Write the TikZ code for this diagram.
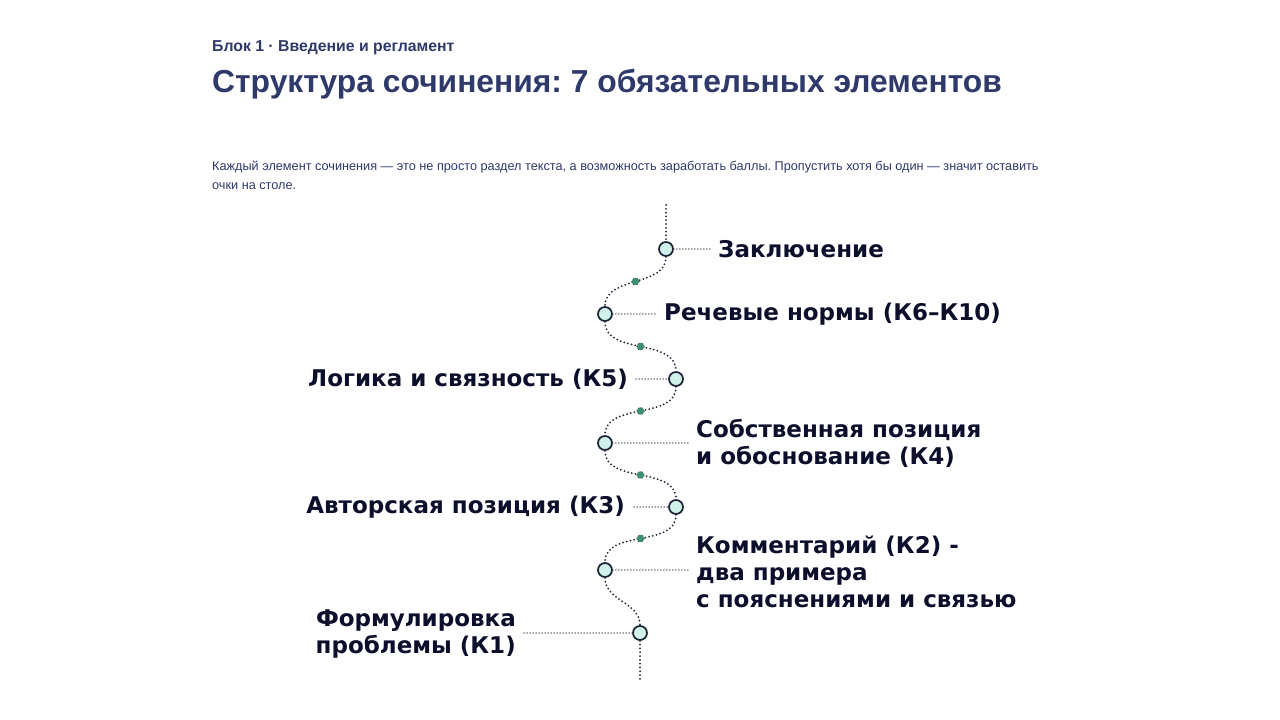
\documentclass[tikz,border=0pt]{standalone}
\usepackage{fontspec}
\setmainfont{Liberation Sans}
\newfontfamily\lblfont{DejaVu Sans}
\usetikzlibrary{positioning}
\definecolor{navy}{HTML}{2F3A6B}
\definecolor{ink}{HTML}{0C0F2C}
\definecolor{mint}{HTML}{CFF1E9}
\definecolor{moss}{HTML}{3F8E74}
\definecolor{rim}{HTML}{1C2436}
\frenchspacing

\begin{document}
\begin{tikzpicture}[x=1pt,y=1pt,
		stop/.style={circle,draw=rim,fill=mint,line width=1.7pt,minimum size=14pt,inner sep=0pt},
		bead/.style={circle,draw=rim,fill=moss,line width=0.9pt,minimum size=7.5pt,inner sep=0pt},
		wave/.style={rim,line width=2pt,dash pattern=on 0pt off 3.8pt,line cap=round},
		lead/.style={rim!90,line width=1.5pt,dash pattern=on 0pt off 3pt,line cap=round},
		lbl/.style={font=\lblfont\bfseries\fontsize{23}{27}\selectfont,text=ink,inner sep=0pt}]
		%%Page
		\fill[white] (0,0) rectangle (1280,720);
		\useasboundingbox (0,0) rectangle (1280,720);
		%%Heading
		\node[anchor=base west,inner sep=0pt,text=navy,font=\bfseries\fontsize{15.8}{19}\selectfont] (block) at (212,668) {Блок 1 · Введение и регламент};
		\node[anchor=base west,inner sep=0pt,text=navy,font=\bfseries\fontsize{31.8}{36}\selectfont] (title) at (212,627) {Структура сочинения: 7 обязательных элементов};
		\node[anchor=base west,inner sep=0pt,text=navy,align=left,font=\fontsize{12.7}{19}\selectfont] (intro) at (212,530) {Каждый элемент сочинения — это не просто раздел текста, а возможность заработать баллы. Пропустить хотя бы один — значит оставить\\очки на столе.};
		
		%%Stops
		\node[stop] (c7) at (666,471) {};
		\node[stop] (c6) at (605,406) {};
		\node[stop] (c5) at (676,341) {};
		\node[stop] (c4) at (605,277) {};
		\node[stop] (c3) at (676,213) {};
		\node[stop] (c2) at (605,150) {};
		\node[stop] (c1) at (640,87) {};
		\coordinate (top) at (666,515);
		\coordinate (bottom) at (640,38);
		
		%%Wave
		\draw[wave] (top) -- (c7);
		\draw[wave] (c7) to[out=-90,in=90] node[bead] (b6) {} (c6);
		\draw[wave] (c6) to[out=-90,in=90] node[bead] (b5) {} (c5);
		\draw[wave] (c5) to[out=-90,in=90] node[bead] (b4) {} (c4);
		\draw[wave] (c4) to[out=-90,in=90] node[bead] (b3) {} (c3);
		\draw[wave] (c3) to[out=-90,in=90] node[bead] (b2) {} (c2);
		\draw[wave] (c2) to[out=-90,in=90] (c1);
		\draw[wave] (c1) -- (bottom);
		
		%%Labels
		\node[lbl,anchor=west] (t7) at (718,471) {Заключение};
		\node[lbl,anchor=west] (t6) at (664,406) {Речевые нормы (К6–К10)};
		\node[lbl,anchor=east] (t5) at (628,341) {Логика и связность (К5)};
		\node[lbl,anchor=west,align=left] (t4) at (696,277) {Собственная позиция\\и обоснование (К4)};
		\node[lbl,anchor=east] (t3) at (625,213) {Авторская позиция (К3)};
		\node[lbl,anchor=west,align=left] (t2) at (696,148) {Комментарий (К2) -\\два примера\\с пояснениями и связью};
		\node[lbl,anchor=east,align=right] (t1) at (516,86) {Формулировка\\проблемы (К1)};
		
		%%Leaders
		\coordinate (e7) at (710,471);
		\coordinate (e6) at (655,406);
		\coordinate (e5) at (636,341);
		\coordinate (e4) at (688,277);
		\coordinate (e3) at (634,213);
		\coordinate (e2) at (688,150);
		\coordinate (e1) at (524,87);
		\draw[lead] (c7) -- (e7);
		\draw[lead] (c6) -- (e6);
		\draw[lead] (e5) -- (c5);
		\draw[lead] (c4) -- (e4);
		\draw[lead] (e3) -- (c3);
		\draw[lead] (c2) -- (e2);
		\draw[lead] (e1) -- (c1);
\end{tikzpicture}
\end{document}
